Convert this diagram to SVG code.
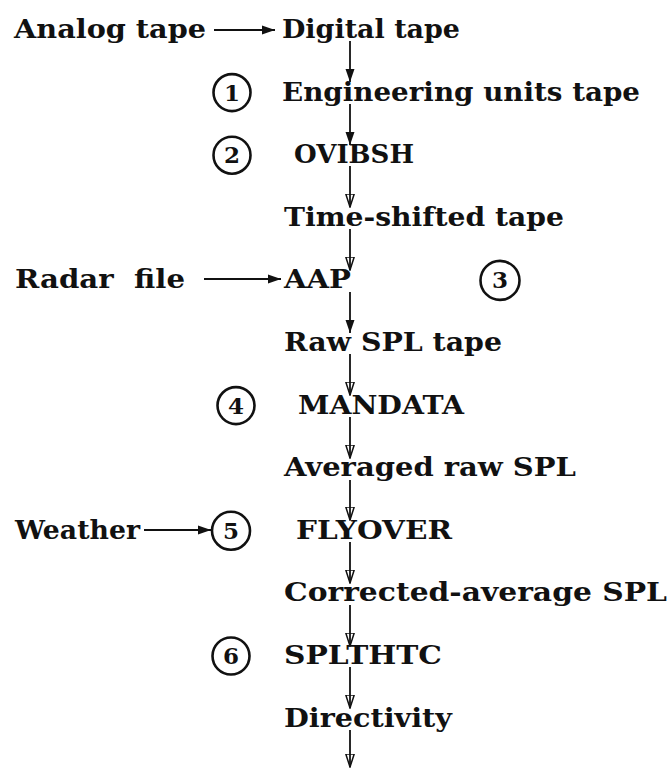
<svg xmlns="http://www.w3.org/2000/svg" width="670" height="768" viewBox="0 0 670 768">
<defs>
<style>
.t{font-family:"DejaVu Serif","Liberation Serif",serif;font-weight:bold;font-size:26px;fill:#111;}
.n{font-family:"DejaVu Serif","Liberation Serif",serif;font-weight:bold;font-size:23px;fill:#111;text-anchor:middle;}
.c{fill:none;stroke:#111;stroke-width:2.6;}
.l{stroke:#111;stroke-width:1.8;fill:none;}
</style>
<marker id="ah" markerUnits="userSpaceOnUse" markerWidth="14" markerHeight="10" refX="13" refY="5" orient="auto">
<path d="M0,0.5 L13,5 L0,9.5 Z" fill="#111"/>
</marker>
<marker id="ao" markerUnits="userSpaceOnUse" markerWidth="14" markerHeight="10" refX="13" refY="5" orient="auto">
<path d="M0,0.8 L13,5 L0,9.2 Z" fill="none" stroke="#111" stroke-width="1.5"/>
</marker>
</defs>
<rect width="670" height="768" fill="#fff"/>
<g id="connectors">
<line class="l" x1="214" y1="30" x2="275" y2="30" marker-end="url(#ah)"/>
<line class="l" x1="204" y1="279" x2="281" y2="279" marker-end="url(#ah)"/>
<line class="l" x1="144" y1="530" x2="211" y2="530" marker-end="url(#ah)"/>
<line class="l" x1="350" y1="41" x2="350" y2="82" marker-end="url(#ah)"/>
<line class="l" x1="350" y1="104" x2="350" y2="145" marker-end="url(#ah)"/>
<line class="l" x1="350" y1="166" x2="350" y2="207" marker-end="url(#ao)"/>
<line class="l" x1="350" y1="229" x2="350" y2="270" marker-end="url(#ao)"/>
<line class="l" x1="350" y1="292" x2="350" y2="333" marker-end="url(#ah)"/>
<line class="l" x1="350" y1="354" x2="350" y2="395" marker-end="url(#ao)"/>
<line class="l" x1="350" y1="417" x2="350" y2="458" marker-end="url(#ao)"/>
<line class="l" x1="350" y1="480" x2="350" y2="520" marker-end="url(#ao)"/>
<line class="l" x1="350" y1="542" x2="350" y2="583" marker-end="url(#ao)"/>
<line class="l" x1="350" y1="605" x2="350" y2="646" marker-end="url(#ao)"/>
<line class="l" x1="350" y1="667" x2="350" y2="708" marker-end="url(#ao)"/>
<line class="l" x1="350" y1="730" x2="350" y2="767" marker-end="url(#ao)"/>
</g>
<g id="analog-tape"><text class="t" x="14" y="38" textLength="192" lengthAdjust="spacingAndGlyphs">Analog tape</text></g>
<g id="digital-tape"><text class="t" x="282" y="38" textLength="178" lengthAdjust="spacingAndGlyphs">Digital tape</text></g>
<g id="step-1"><circle class="c" cx="232" cy="92.6" r="18.5"/><text class="n" x="232" y="100.6">1</text></g>
<g id="engineering-units-tape"><text class="t" x="282" y="100.6" textLength="358" lengthAdjust="spacingAndGlyphs">Engineering units tape</text></g>
<g id="step-2"><circle class="c" cx="232" cy="155.2" r="18.5"/><text class="n" x="232" y="163.2">2</text></g>
<g id="ovibsh"><text class="t" x="294" y="163.2" textLength="120" lengthAdjust="spacingAndGlyphs">OVIBSH</text></g>
<g id="time-shifted-tape"><text class="t" x="284" y="225.8" textLength="280" lengthAdjust="spacingAndGlyphs">Time-shifted tape</text></g>
<g id="radar-file"><text class="t" x="15" y="288.4" textLength="170" lengthAdjust="spacingAndGlyphs" xml:space="preserve" style="white-space:pre">Radar  file</text></g>
<g id="aap"><text class="t" x="284" y="288.4" textLength="67" lengthAdjust="spacingAndGlyphs">AAP</text></g>
<g id="step-3"><circle class="c" cx="500" cy="280.4" r="19.5"/><text class="n" x="500" y="288.4">3</text></g>
<g id="raw-spl-tape"><text class="t" x="284" y="351" textLength="218" lengthAdjust="spacingAndGlyphs">Raw SPL tape</text></g>
<g id="step-4"><circle class="c" cx="236" cy="405.6" r="18.5"/><text class="n" x="236" y="413.6">4</text></g>
<g id="mandata"><text class="t" x="298" y="413.6" textLength="166" lengthAdjust="spacingAndGlyphs">MANDATA</text></g>
<g id="averaged-raw-spl"><text class="t" x="284" y="476.2" textLength="292" lengthAdjust="spacingAndGlyphs">Averaged raw SPL</text></g>
<g id="weather"><text class="t" x="15" y="538.8" textLength="125" lengthAdjust="spacingAndGlyphs">Weather</text></g>
<g id="step-5"><circle class="c" cx="231" cy="530.8" r="19"/><text class="n" x="231" y="538.8">5</text></g>
<g id="flyover"><text class="t" x="296" y="538.8" textLength="156" lengthAdjust="spacingAndGlyphs">FLYOVER</text></g>
<g id="corrected-average-spl"><text class="t" x="284" y="601.4" textLength="383" lengthAdjust="spacingAndGlyphs">Corrected-average SPL</text></g>
<g id="step-6"><circle class="c" cx="231" cy="656" r="18.5"/><text class="n" x="231" y="664">6</text></g>
<g id="splthtc"><text class="t" x="284" y="664" textLength="158" lengthAdjust="spacingAndGlyphs">SPLTHTC</text></g>
<g id="directivity"><text class="t" x="284" y="726.6" textLength="168" lengthAdjust="spacingAndGlyphs">Directivity</text></g>
</svg>
